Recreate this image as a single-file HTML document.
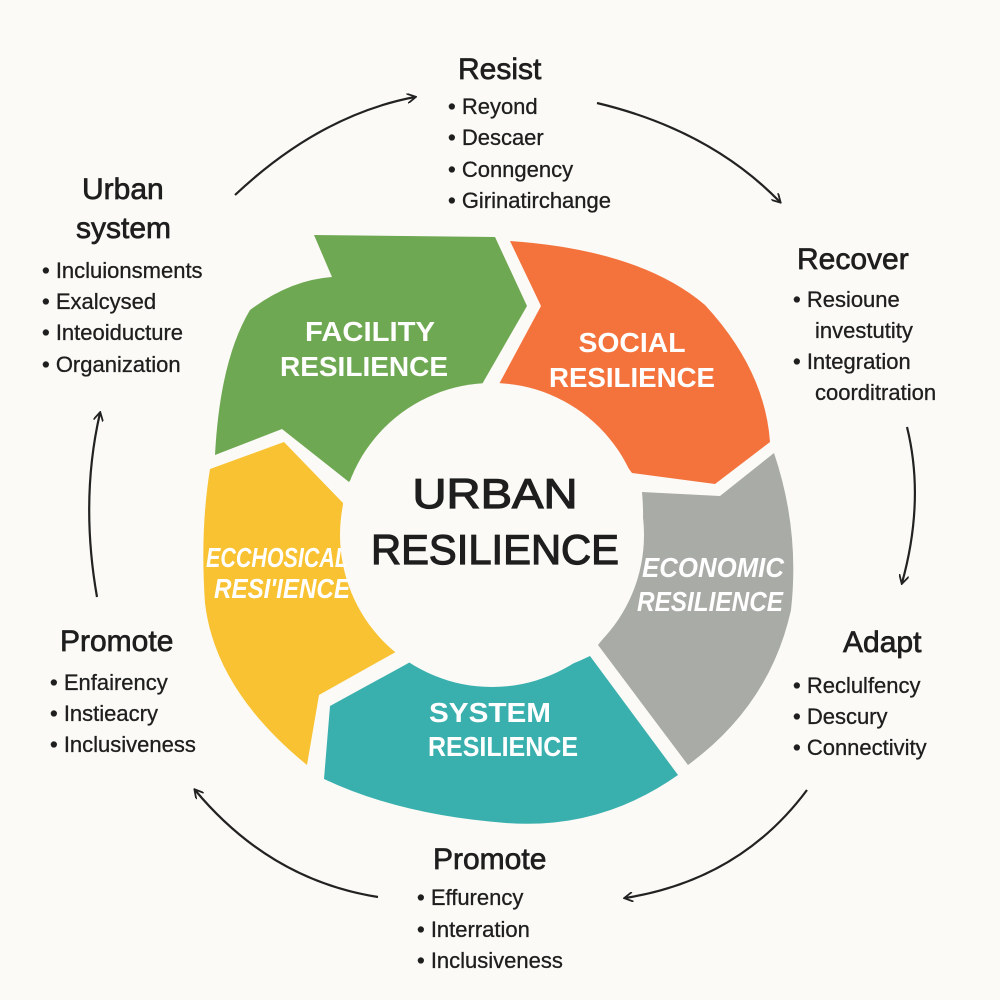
<!DOCTYPE html>
<html><head><meta charset="utf-8"><style>
body{margin:0;background:#fbfaf6;}
svg{display:block;font-family:"Liberation Sans",sans-serif;}
.h{font-size:30px;fill:#1e1e1e;stroke:#1e1e1e;stroke-width:0.7px;}
.t{font-size:22px;fill:#1e1e1e;stroke:#1e1e1e;stroke-width:0.3px;}
.w{font-size:28px;font-weight:bold;fill:#fff;text-anchor:middle;}
</style></head><body>
<svg width="1000" height="1000" viewBox="0 0 1000 1000">
<rect width="1000" height="1000" fill="#fbfaf6"/>
<defs><marker id="a" markerWidth="10" markerHeight="10" refX="8" refY="5" orient="auto" markerUnits="userSpaceOnUse" viewBox="0 0 10 10"><path d="M0,0 L9,5 L0,10" fill="none" stroke="#222" stroke-width="1.8"/></marker></defs>
<path d="M314,235 L495,237 L527,306 L481,386 Q400,410 349,482 L282,429 L215,455 Q220,360 250,310 Q290,280 332,277 Z" fill="#6fa852"/>
<path d="M510,241 Q640,250 705,305 Q765,370 770,442 L715,484 L632,473 Q580,400 498,386 L541,306 Z" fill="#f4733d"/>
<path d="M774,453 Q800,530 791,610 Q770,705 688,765 L598,645 Q650,580 642,492 L720,496 Z" fill="#a9aba7"/>
<path d="M678,775 Q600,830 506,823 Q400,815 324,779 L330,706 L414,660 Q500,700 590,656 Z" fill="#3ab0ae"/>
<path d="M284,442 L343,503 Q340,600 401,649 L319,695 L307,765 Q215,690 205,603 Q200,530 210,469 Z" fill="#f8c232"/>
<circle cx="492" cy="535" r="152" fill="#fbfaf6"/>
<text x="495" y="508" text-anchor="middle" font-size="42" fill="#1e1e1e" stroke="#1e1e1e" stroke-width="1.2" textLength="165" lengthAdjust="spacingAndGlyphs">URBAN</text>
<text x="495" y="564" text-anchor="middle" font-size="42" fill="#1e1e1e" stroke="#1e1e1e" stroke-width="1.2" textLength="248" lengthAdjust="spacingAndGlyphs">RESILIENCE</text>
<text class="w" x="370" y="341" textLength="130" lengthAdjust="spacingAndGlyphs">FACILITY</text>
<text class="w" x="364" y="376" textLength="168" lengthAdjust="spacingAndGlyphs">RESILIENCE</text>
<text class="w" x="632" y="352" textLength="107" lengthAdjust="spacingAndGlyphs">SOCIAL</text>
<text class="w" x="632" y="387" textLength="166" lengthAdjust="spacingAndGlyphs">RESILIENCE</text>
<text class="w" x="713" y="577" font-style="italic" font-size="26" textLength="142" lengthAdjust="spacingAndGlyphs">ECONOMIC</text>
<text class="w" x="710" y="611" font-style="italic" font-size="26" textLength="146" lengthAdjust="spacingAndGlyphs">RESILIENCE</text>
<text class="w" x="490" y="722" textLength="122" lengthAdjust="spacingAndGlyphs">SYSTEM</text>
<text class="w" x="503" y="756" textLength="150" lengthAdjust="spacingAndGlyphs">RESILIENCE</text>
<text class="w" x="277" y="567" font-style="italic" font-size="26" textLength="142" lengthAdjust="spacingAndGlyphs">ECCHOSICAL</text>
<text class="w" x="282" y="598" font-style="italic" font-size="26" textLength="136" lengthAdjust="spacingAndGlyphs">RESI'IENCE</text>
<g fill="none" stroke="#222" stroke-width="2.2" marker-end="url(#a)">
<path d="M235,195 Q320,115 415,97"/>
<path d="M597,103 Q710,130 780,202"/>
<path d="M907,427 Q925,500 902,583"/>
<path d="M807,790 Q740,880 625,898"/>
<path d="M378,897 Q270,880 195,790"/>
<path d="M97,597 Q80,500 100,413"/>
</g>
<text class="h" x="458" y="79">Resist</text>
<g class="t"><text x="448" y="114">• Reyond</text><text x="448" y="145">• Descaer</text><text x="448" y="177">• Conngency</text><text x="448" y="208">• Girinatirchange</text></g>
<text class="h" x="82" y="199">Urban</text><text class="h" x="76" y="238">system</text>
<g class="t"><text x="42" y="278">• Incluionsments</text><text x="42" y="309">• Exalcysed</text><text x="42" y="340">• Inteoiducture</text><text x="42" y="372">• Organization</text></g>
<text class="h" x="797" y="269">Recover</text>
<g class="t"><text x="793" y="307">• Resioune</text><text x="815" y="338">investutity</text><text x="793" y="369">• Integration</text><text x="815" y="400">coorditration</text></g>
<text class="h" x="843" y="652">Adapt</text>
<g class="t"><text x="793" y="693">• Reclulfency</text><text x="793" y="724">• Descury</text><text x="793" y="755">• Connectivity</text></g>
<text class="h" x="60" y="651">Promote</text>
<g class="t"><text x="50" y="690">• Enfairency</text><text x="50" y="721">• Instieacry</text><text x="50" y="752">• Inclusiveness</text></g>
<text class="h" x="433" y="869">Promote</text>
<g class="t"><text x="417" y="905">• Effurency</text><text x="417" y="937">• Interration</text><text x="417" y="968">• Inclusiveness</text></g>
</svg>
</body></html>
